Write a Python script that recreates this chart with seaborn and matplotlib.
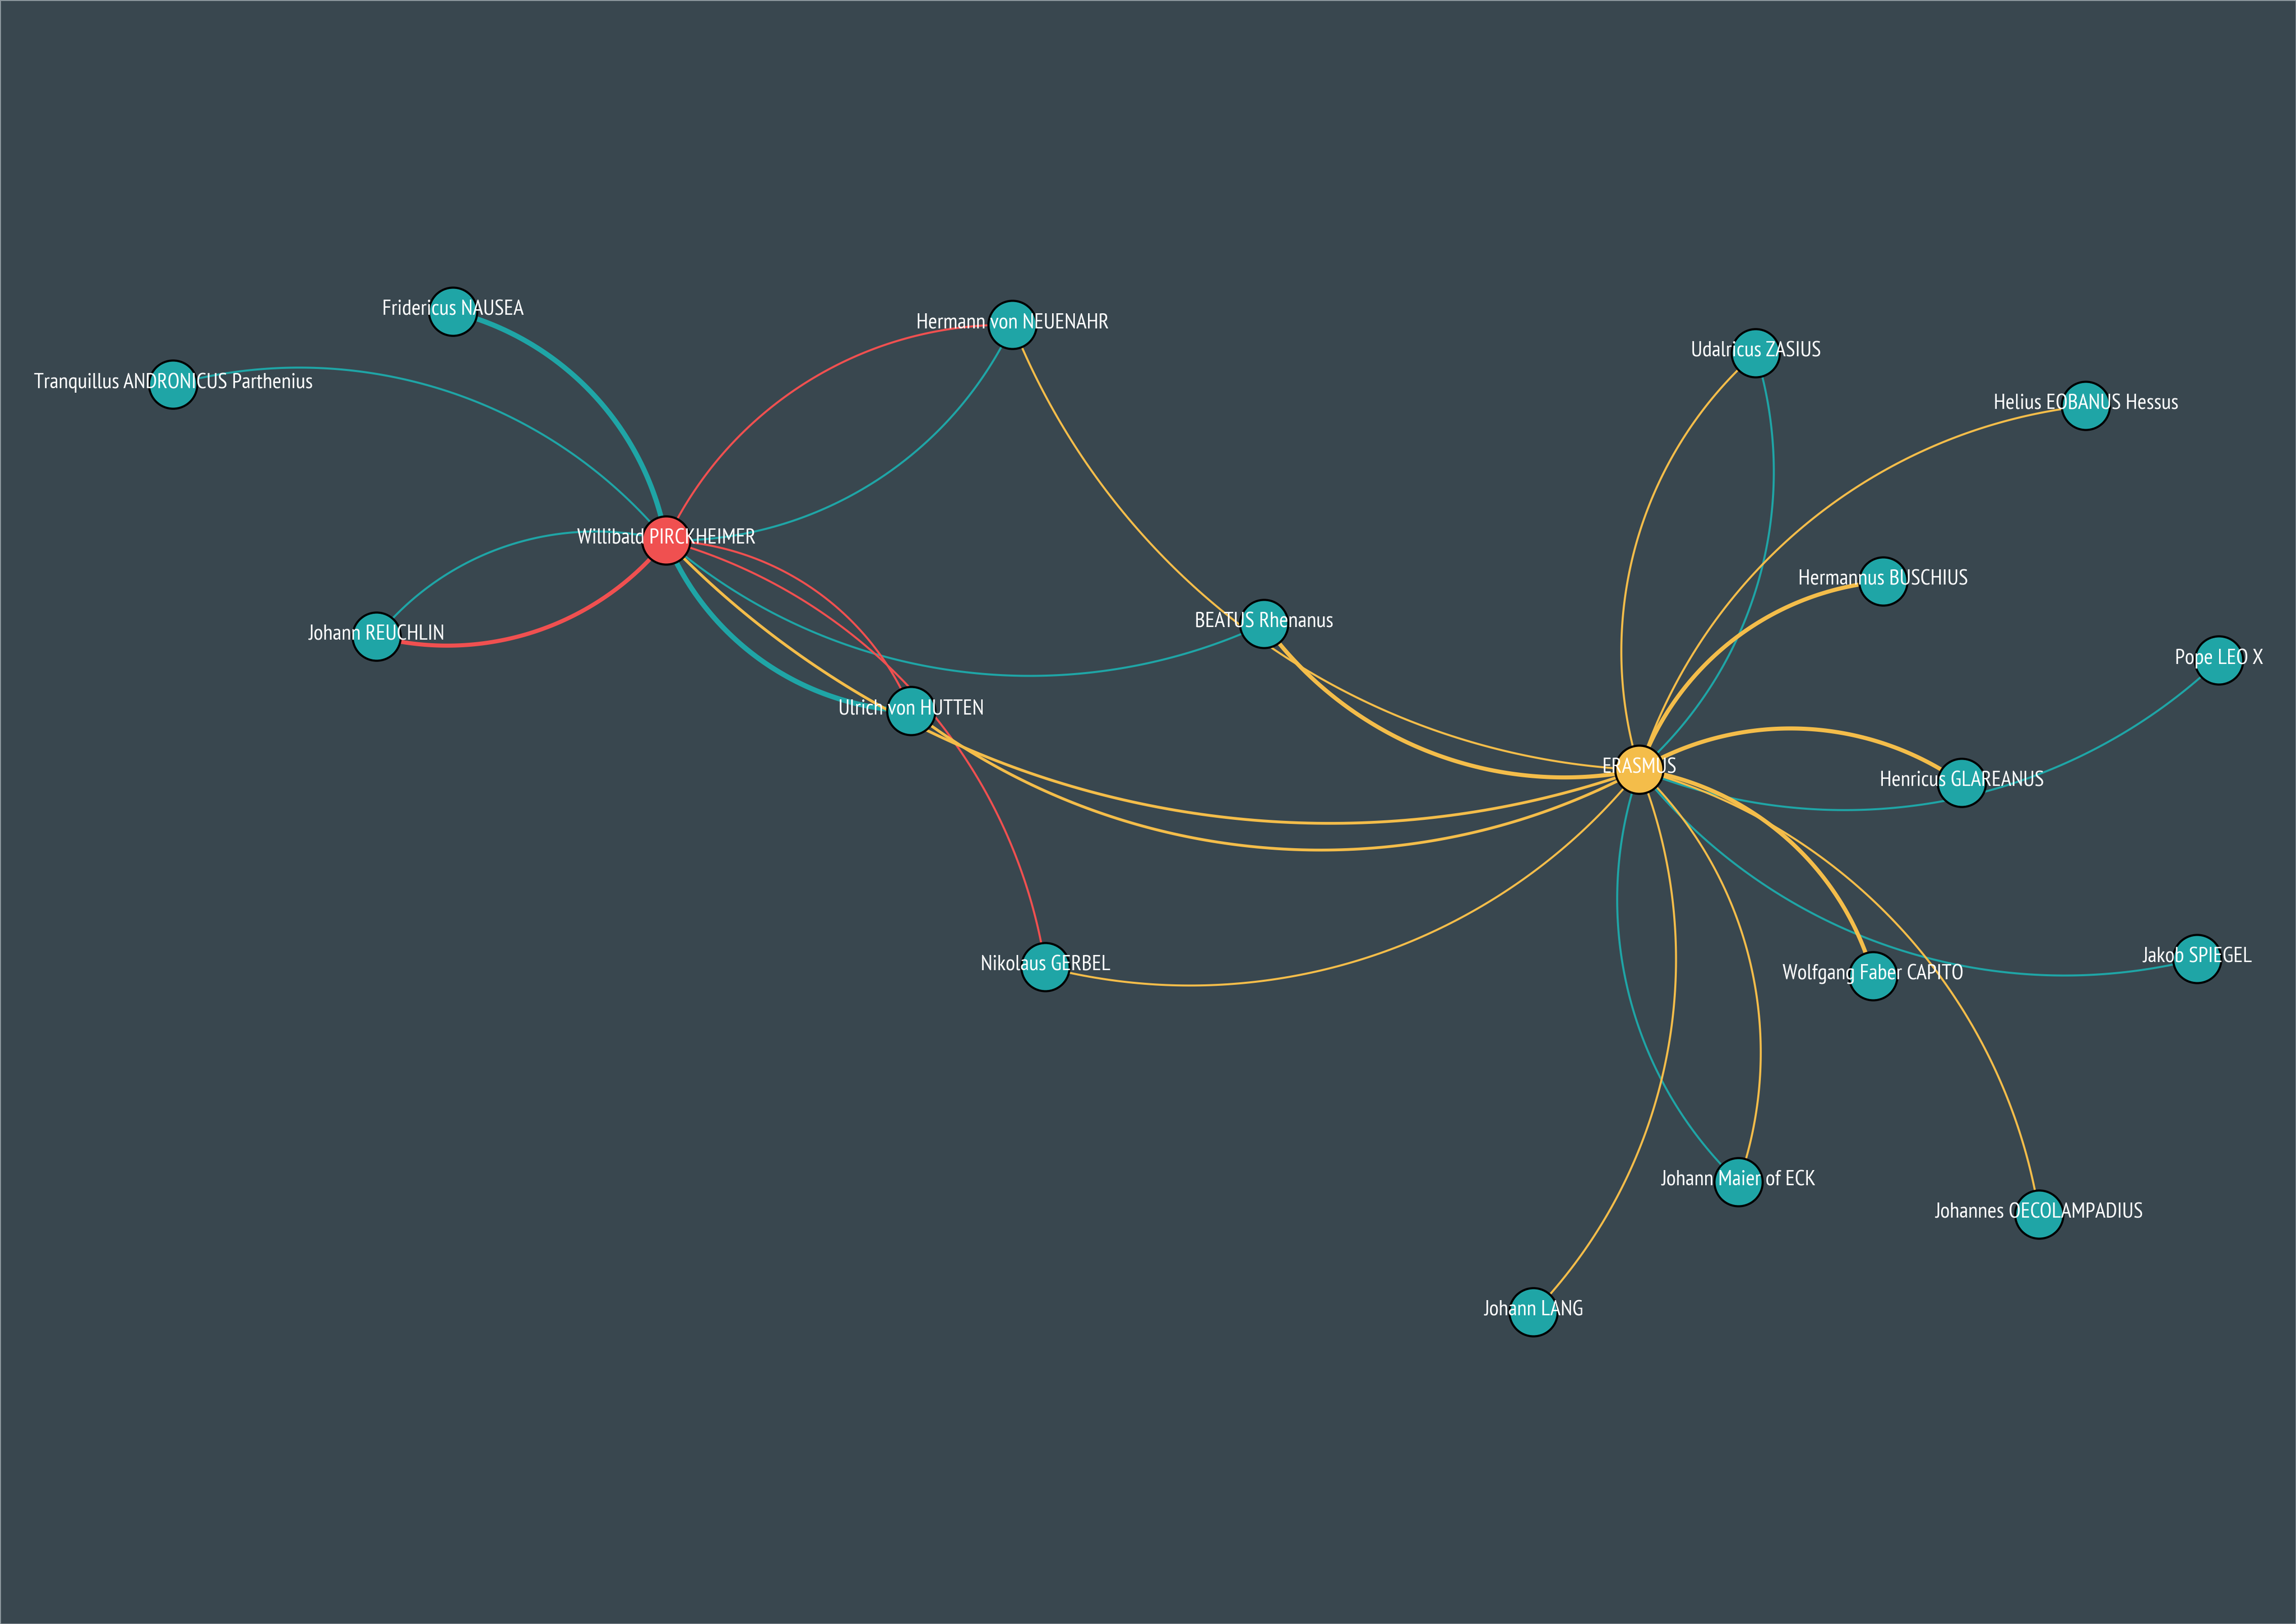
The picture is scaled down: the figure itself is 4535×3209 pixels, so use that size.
import numpy as np
import pandas as pd
import matplotlib
matplotlib.use("Agg")
import matplotlib.pyplot as plt
from matplotlib import font_manager
import seaborn as sns

# --- data -------------------------------------------------------------------
# node layout, in canvas pixels (y grows downward)
node_names = [
    "Willibald PIRCKHEIMER", "Fridericus NAUSEA", "Tranquillus ANDRONICUS Parthenius",
    "Hermann von NEUENAHR", "Johann REUCHLIN", "Ulrich von HUTTEN", "BEATUS Rhenanus",
    "Nikolaus GERBEL", "ERASMUS", "Udalricus ZASIUS", "Helius EOBANUS Hessus",
    "Hermannus BUSCHIUS", "Pope LEO X", "Henricus GLAREANUS", "Jakob SPIEGEL",
    "Wolfgang Faber CAPITO", "Johann Maier of ECK", "Johannes OECOLAMPADIUS", "Johann LANG",
]
node_x = [1316, 895, 342, 2000, 744, 1800, 2497, 2065, 3238, 3468, 4120,
          3720, 4383, 3875, 4340, 3700, 3434, 4028, 3029]
node_y = [1068, 616, 760, 642, 1258, 1405, 1233, 1911, 1521, 698, 802,
          1149, 1305, 1547, 1895, 1929, 2336, 2400, 2593]
node_group = ["pirckheimer", "other", "other", "other", "other", "other", "other",
              "other", "erasmus", "other", "other", "other", "other", "other",
              "other", "other", "other", "other", "other"]

P, E = "Willibald PIRCKHEIMER", "ERASMUS"
edge_src = [
    "Fridericus NAUSEA", "Tranquillus ANDRONICUS Parthenius", "Hermann von NEUENAHR",
    "Johann REUCHLIN", "Ulrich von HUTTEN", "BEATUS Rhenanus",
    P, P, P, P,
    E, E, E, E, E, E, "Udalricus ZASIUS", E, E, E, "Pope LEO X", E,
    "Jakob SPIEGEL", E, E, "Johann Maier of ECK", E,
]
edge_dst = [
    P, P, P, P, P, P,
    "Hermann von NEUENAHR", "Johann REUCHLIN", "Ulrich von HUTTEN", "Nikolaus GERBEL",
    P, "Ulrich von HUTTEN", "Hermann von NEUENAHR", "BEATUS Rhenanus", "Nikolaus GERBEL",
    "Udalricus ZASIUS", E, "Helius EOBANUS Hessus", "Hermannus BUSCHIUS",
    "Henricus GLAREANUS", E, "Wolfgang Faber CAPITO", E, "Johannes OECOLAMPADIUS",
    "Johann Maier of ECK", E, "Johann LANG",
]
edge_weight = [4, 1, 1, 1, 4, 1,
               1, 3, 1, 1,
               2, 2, 1, 3, 1, 1, 1, 1, 3, 3, 1, 3, 1, 1, 1, 1, 1]

# --- style --------------------------------------------------------------------
BG = "#39474f"
palette = {"pirckheimer": "#f05050", "erasmus": "#f4bd4a", "other": "#1fa5a6"}
width_map = {1: 2.9, 2: 4.0, 3: 5.8, 4: 7.2}
ARC_K = 0.92  # arc radius relative to chord length

sns.set_theme(style="white")

# pick a condensed humanist sans if one is around (reference uses a condensed face)
installed = {f.name for f in font_manager.fontManager.ttflist}
preferred = ["PT Sans Narrow", "Fira Sans Condensed", "Roboto Condensed",
             "Encode Sans Condensed", "Open Sans Condensed", "Liberation Sans Narrow"]
label_family = next((f for f in preferred if f in installed), "Open Sans")
label_stretch = "normal" if label_family in preferred else "condensed"
plt.rcParams["font.family"] = [label_family, "DejaVu Sans"]

nodes = pd.DataFrame({"name": node_names, "x": node_x, "y": node_y, "group": node_group})
pos = nodes.set_index("name")


def arc_points(p1, p2, n=120):
    d = p2 - p1
    length = np.hypot(*d)
    normal = np.array([d[1], -d[0]]) / length
    r = ARC_K * length
    h = np.sqrt(r ** 2 - (length / 2) ** 2)
    c = (p1 + p2) / 2 - h * normal
    a1 = np.arctan2(*(p1 - c)[::-1])
    a2 = np.arctan2(*(p2 - c)[::-1])
    da = (a2 - a1 + np.pi) % (2 * np.pi) - np.pi
    a = np.linspace(a1, a1 + da, n)
    return c[0] + r * np.cos(a), c[1] + r * np.sin(a)


rows = []
for i, (s, t, w) in enumerate(zip(edge_src, edge_dst, edge_weight)):
    p1 = pos.loc[s, ["x", "y"]].to_numpy(float)
    p2 = pos.loc[t, ["x", "y"]].to_numpy(float)
    xs, ys = arc_points(p1, p2)
    for k, (xx, yy) in enumerate(zip(xs, ys)):
        rows.append({"edge": i, "order": k, "x": xx, "y": yy,
                     "group": pos.loc[s, "group"], "weight": w})
arcs = pd.DataFrame(rows)

fig = plt.figure(figsize=(45.35, 32.09), dpi=100, facecolor=BG,
                 edgecolor="#8c969c", linewidth=2)
ax = fig.add_axes([0, 0, 1, 1])
ax.set_facecolor(BG)

sns.lineplot(data=arcs, x="x", y="y", units="edge", estimator=None, sort=False,
             hue="group", palette=palette, size="weight", sizes=width_map,
             legend=False, ax=ax, zorder=1)

sns.scatterplot(data=nodes, x="x", y="y", hue="group", palette=palette,
                s=4700, edgecolor="black", linewidth=3.0, legend=False,
                ax=ax, zorder=2)

ax.set_xlim(0, 4535)
ax.set_ylim(3209, 0)
ax.axis("off")

# size labels so "Willibald PIRCKHEIMER" spans about 352 px, as in the reference
renderer = fig.canvas.get_renderer()
probe = ax.text(0, 0, P, fontsize=30, fontstretch=label_stretch)
probe_w = probe.get_window_extent(renderer).width
probe.remove()
label_size = float(np.clip(30 * 352 / probe_w, 22, 36))

for _, row in nodes.iterrows():
    ax.text(row["x"], row["y"] - 4, row["name"], color="white", fontsize=label_size,
            fontstretch=label_stretch, ha="center", va="center", zorder=3)

fig.savefig("out.png", dpi=100, facecolor=BG, edgecolor="#8c969c")
